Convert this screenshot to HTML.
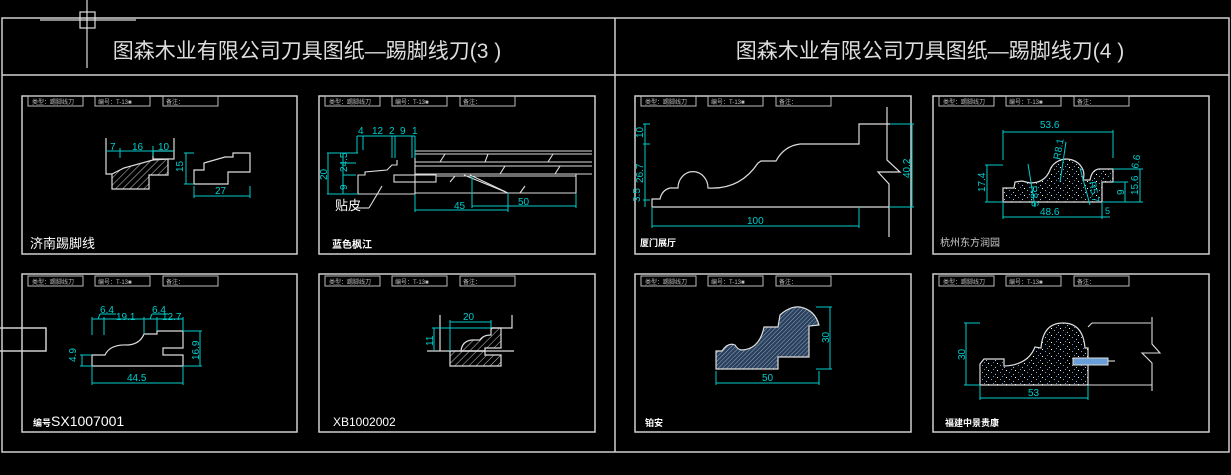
<!DOCTYPE html>
<html><head><meta charset="utf-8"><style>
html,body{margin:0;padding:0;background:#000;}
svg{display:block;}
text{font-family:"Liberation Sans","Noto Sans CJK SC",sans-serif;}
</style></head><body>
<svg width="1231" height="475" viewBox="0 0 1231 475" xmlns="http://www.w3.org/2000/svg">
<defs>
<pattern id="hw" width="5" height="5" patternUnits="userSpaceOnUse" patternTransform="rotate(45)"><line x1="0" y1="0" x2="0" y2="5" stroke="#ccc" stroke-width="1"/></pattern>
<pattern id="hb" width="3" height="3" patternUnits="userSpaceOnUse" patternTransform="rotate(45)"><rect width="3" height="3" fill="#2a3f5a"/><line x1="0" y1="0" x2="0" y2="3" stroke="#8fa8c8" stroke-width="1"/></pattern>
<pattern id="dots" width="9" height="7" patternUnits="userSpaceOnUse"><rect width="9" height="7" fill="#000"/><rect x="1" y="1" width="1" height="1" fill="#6aa0e0"/><rect x="5" y="3" width="1" height="1" fill="#9ac0f0"/><rect x="3" y="5" width="1" height="1" fill="#5090d0"/><rect x="7" y="6" width="1" height="1" fill="#fff"/></pattern>
<g id="hdr">
<rect x="0" y="0" width="55" height="10" fill="none" stroke="#bbb"/>
<rect x="67" y="0" width="55" height="10" fill="none" stroke="#bbb"/>
<rect x="135" y="0" width="55" height="10" fill="none" stroke="#bbb"/>
<text x="4" y="8" font-size="6" fill="#bbb">类型：踢脚线刀</text>
<text x="70" y="8" font-size="6" fill="#bbb">编号：T-13■</text>
<text x="138" y="8" font-size="6" fill="#bbb">备注：</text>
</g>
</defs>
<g fill="none" stroke="#cfcfcf" stroke-width="1.5">
<rect x="2" y="18" width="1227" height="434"/>
<line x1="2" y1="75" x2="1229" y2="75"/>
<line x1="615" y1="18" x2="615" y2="452"/>
<rect x="22" y="96" width="275" height="158"/>
<rect x="319" y="96" width="276" height="158"/>
<rect x="22" y="274" width="275" height="158"/>
<rect x="319" y="274" width="276" height="158"/>
<rect x="635" y="96" width="276" height="158"/>
<rect x="933" y="96" width="276" height="158"/>
<rect x="635" y="274" width="276" height="158"/>
<rect x="933" y="274" width="276" height="158"/>
<polyline points="0,328 46,328 46,351 0,351"/>
</g>
<!-- crosshair -->
<g stroke="#ddd" stroke-width="1.2" fill="none">
<line x1="87" y1="0" x2="87" y2="68"/><line x1="40" y1="20" x2="136" y2="20"/><rect x="80" y="12" width="15" height="16"/>
</g>
<text x="307" y="58" font-size="21" fill="#ddd" text-anchor="middle">图森木业有限公司刀具图纸—踢脚线刀(3 )</text>
<text x="930" y="58" font-size="21" fill="#ddd" text-anchor="middle">图森木业有限公司刀具图纸—踢脚线刀(4 )</text>
<use href="#hdr" x="28" y="96"/><use href="#hdr" x="325" y="96"/><use href="#hdr" x="28" y="276"/><use href="#hdr" x="325" y="276"/>
<use href="#hdr" x="641" y="96"/><use href="#hdr" x="939" y="96"/><use href="#hdr" x="641" y="276"/><use href="#hdr" x="939" y="276"/>

<!-- Panel 1 -->
<g stroke="#ddd" stroke-width="1.2">
<polygon points="112,174 124,168 153,160 168,159 168,175 149,175 149,189 112,189" fill="url(#hw)"/>
<polyline fill="none" points="106,138 106,174 112,174"/>
<rect x="153" y="151" width="21" height="8" fill="none"/>
<line x1="174" y1="138" x2="174" y2="151"/>
<polygon fill="none" points="194,170 204,170 204,163 225,157 233,157 233,153 250,153 250,172 228,172 228,184 194,184"/>
</g>
<g stroke="#0cc" stroke-width="1" fill="none">
<line x1="106" y1="151" x2="174" y2="151"/><line x1="120" y1="148" x2="120" y2="158"/><line x1="153" y1="146" x2="153" y2="156"/>
<line x1="186" y1="153" x2="186" y2="184"/><line x1="184" y1="153" x2="194" y2="153"/><line x1="184" y1="184" x2="194" y2="184"/>
<line x1="194" y1="196" x2="250" y2="196"/><line x1="194" y1="186" x2="194" y2="198"/><line x1="250" y1="186" x2="250" y2="198"/>
</g>
<g fill="#0cc" font-size="10">
<text x="110" y="150">7</text><text x="132" y="150">16</text><text x="158" y="150">10</text>
<text x="215" y="194">27</text>
<text transform="translate(183,172) rotate(-90)">15</text>
</g>
<text x="30" y="248" font-size="13" fill="#fff">济南踢脚线</text>

<!-- Panel 2 -->
<g stroke="#ddd" stroke-width="1.1" fill="none">
<polyline points="358,194 358,175 365,175 365,172 387,170 392,165 397,165 397,160 A 8 9 0 0 1 413 160 413,163 415,163"/>
<line x1="358" y1="194" x2="415" y2="194"/>
<line x1="415" y1="150" x2="415" y2="194"/>
<line x1="415" y1="151" x2="592" y2="151"/><line x1="415" y1="154" x2="592" y2="154"/>
<line x1="415" y1="162" x2="592" y2="162"/><line x1="415" y1="166" x2="592" y2="166"/>
<line x1="415" y1="174" x2="592" y2="174"/><line x1="436" y1="176" x2="576" y2="176"/>
<line x1="415" y1="193" x2="576" y2="193"/>
<rect x="394" y="175" width="42" height="7"/>
<line x1="464" y1="175" x2="508" y2="193"/><line x1="470" y1="175" x2="506" y2="192"/>
<line x1="440" y1="162" x2="445" y2="154"/><line x1="485" y1="162" x2="488" y2="154"/><line x1="548" y1="162" x2="553" y2="154"/>
<line x1="500" y1="174" x2="505" y2="166"/><line x1="555" y1="174" x2="560" y2="166"/><line x1="450" y1="182" x2="455" y2="176"/><line x1="520" y1="193" x2="525" y2="186"/>
<line x1="576" y1="174" x2="576" y2="193"/>
<line x1="369" y1="208" x2="382" y2="186"/><line x1="355" y1="208" x2="369" y2="208"/>
</g>
<g stroke="#0cc" stroke-width="1" fill="none">
<line x1="357" y1="136" x2="415" y2="136"/>
<line x1="357" y1="136" x2="357" y2="153"/><line x1="363" y1="136" x2="363" y2="150"/><line x1="392" y1="136" x2="392" y2="158"/><line x1="395" y1="136" x2="395" y2="158"/><line x1="412" y1="136" x2="412" y2="158"/><line x1="415" y1="136" x2="415" y2="158"/>
<line x1="328" y1="153" x2="328" y2="194"/><line x1="327" y1="153" x2="358" y2="153"/><line x1="327" y1="194" x2="358" y2="194"/>
<line x1="343" y1="153" x2="343" y2="194"/><line x1="343" y1="163" x2="356" y2="163"/><line x1="343" y1="175" x2="356" y2="175"/>
<line x1="415" y1="210" x2="508" y2="210"/><line x1="415" y1="194" x2="415" y2="212"/><line x1="508" y1="193" x2="508" y2="212"/>
<line x1="472" y1="206" x2="576" y2="206"/><line x1="472" y1="176" x2="472" y2="208"/><line x1="576" y1="193" x2="576" y2="208"/>
</g>
<g fill="#0cc" font-size="10">
<text x="358" y="134">4</text><text x="372" y="134">12</text><text x="389" y="134">2</text><text x="400" y="134">9</text><text x="412" y="134">1</text>
<text transform="translate(327,180) rotate(-90)">20</text>
<text transform="translate(347,172) rotate(-90)">24.5</text>
<text transform="translate(347,190) rotate(-90)">9</text>
<text x="454" y="209">45</text><text x="518" y="205">50</text>
</g>
<text x="335" y="210" font-size="13" fill="#fff">贴皮</text>
<text x="332" y="248" font-size="10" font-weight="bold" fill="#fff">蓝色枫江</text>

<!-- Panel 3 -->
<g stroke="#ddd" stroke-width="1.2" fill="none">
<path d="M652,207 L889,207 M652,207 L652,199 L660,199 Q662,190 670,188 L678,188 A 11 12 0 0 1 708 188 Q740,190 758,163 L761,161 L776,161 Q784,146 800,144 L859,144 L859,124 L890,124"/>
<polyline points="887,107 887,160 900,172 878,172 889,184 889,237"/>
</g>
<g stroke="#0cc" stroke-width="1" fill="none">
<line x1="645" y1="124" x2="645" y2="207"/><line x1="643" y1="124" x2="650" y2="124"/><line x1="643" y1="144" x2="650" y2="144"/><line x1="643" y1="200" x2="650" y2="200"/>
<line x1="912" y1="124" x2="912" y2="207"/><line x1="890" y1="124" x2="914" y2="124"/><line x1="889" y1="207" x2="914" y2="207"/>
<line x1="652" y1="207" x2="652" y2="228"/><line x1="859" y1="207" x2="859" y2="228"/><line x1="652" y1="226" x2="859" y2="226"/>
</g>
<g fill="#0cc" font-size="10">
<text transform="translate(643,138) rotate(-90)">10</text>
<text transform="translate(643,183) rotate(-90)">26.7</text>
<text transform="translate(640,202) rotate(-90)">3.5</text>
<text transform="translate(910,178) rotate(-90)">40.2</text>
<text x="747" y="224">100</text>
</g>
<text x="640" y="246" font-size="9" font-weight="bold" fill="#fff">厦门展厅</text>

<!-- Panel 4 -->
<path d="M1003,202 L1003,188 L1014,188 L1015,182 L1022,181 L1030,183 Q1045,183 1050,170 A 12 11 0 0 1 1083 180 L1090,180 Q1092,169 1100,169 L1113,169 L1113,182 L1102,182 L1102,202 Z" fill="url(#dots)" stroke="#ddd" stroke-width="1.2"/>
<g stroke="#0cc" stroke-width="1" fill="none">
<line x1="1003" y1="132" x2="1113" y2="132"/><line x1="1003" y1="130" x2="1003" y2="160"/><line x1="1113" y1="130" x2="1113" y2="158"/>
<line x1="987" y1="165" x2="987" y2="202"/><line x1="985" y1="165" x2="1003" y2="165"/><line x1="985" y1="202" x2="1003" y2="202"/>
<line x1="1003" y1="217" x2="1110" y2="217"/><line x1="1003" y1="202" x2="1003" y2="219"/><line x1="1102" y1="202" x2="1102" y2="219"/>
<line x1="1125" y1="182" x2="1125" y2="202"/><line x1="1113" y1="182" x2="1128" y2="182"/>
<line x1="1140" y1="169" x2="1140" y2="202"/><line x1="1113" y1="169" x2="1143" y2="169"/><line x1="1103" y1="202" x2="1143" y2="202"/>
<line x1="1028" y1="164" x2="1035" y2="207"/><line x1="1066" y1="142" x2="1060" y2="182"/><line x1="1080" y1="168" x2="1090" y2="205"/>
</g>
<g fill="#0cc" font-size="10">
<text x="1040" y="128">53.6</text><text x="1040" y="215">48.6</text>
<text transform="translate(985,192) rotate(-90)">17.4</text>
<text transform="translate(1124,195) rotate(-90)">9</text>
<text transform="translate(1138,195) rotate(-90)">15.6</text>
<text transform="translate(1138,169) rotate(-80)">6.6</text>
<text transform="translate(1060,160) rotate(-80)">R8.1</text>
<text transform="translate(1030,186) rotate(85)">R8.6</text>
<text transform="translate(1089,182) rotate(80)">R5.7</text>
<text x="1105" y="214" font-size="9">5</text>
</g>
<text x="940" y="246" font-size="10" fill="#ccc">杭州东方润园</text>

<!-- Panel 5 -->
<path d="M92,355 L92,366 L183,366 L183,355 L163,355 L163,348 L183,348 L183,331 L157,331 L157,334 L144,334 Q140,344 128,345 Q110,344 105,355 Z" fill="none" stroke="#ddd" stroke-width="1.2"/>
<g stroke="#0cc" stroke-width="1" fill="none">
<line x1="92" y1="319" x2="183" y2="319"/><line x1="92" y1="317" x2="92" y2="335"/><line x1="104" y1="317" x2="104" y2="335"/><line x1="144" y1="317" x2="144" y2="334"/><line x1="157" y1="317" x2="157" y2="331"/><line x1="183" y1="317" x2="183" y2="331"/>
<line x1="98" y1="319" x2="100" y2="314"/><line x1="100" y1="314" x2="116" y2="314"/><line x1="150" y1="319" x2="152" y2="314"/><line x1="152" y1="314" x2="168" y2="314"/>
<line x1="200" y1="331" x2="200" y2="366"/><line x1="183" y1="331" x2="202" y2="331"/><line x1="183" y1="366" x2="202" y2="366"/>
<line x1="92" y1="383" x2="183" y2="383"/><line x1="92" y1="366" x2="92" y2="385"/><line x1="183" y1="366" x2="183" y2="385"/>
<line x1="82" y1="355" x2="82" y2="366"/><line x1="80" y1="355" x2="92" y2="355"/><line x1="80" y1="366" x2="92" y2="366"/>
</g>
<g fill="#0cc" font-size="10">
<text x="100" y="313">6.4</text><text x="116" y="320">19.1</text><text x="152" y="313">6.4</text><text x="162" y="320">12.7</text>
<text transform="translate(199,360) rotate(-90)">16.9</text>
<text x="127" y="381">44.5</text>
<text transform="translate(76,362) rotate(-90)">4.9</text>
</g>
<text x="33" y="426" font-size="14" fill="#fff"><tspan font-size="9" font-weight="bold">编号</tspan>SX1007001</text>

<!-- Panel 6 -->
<g stroke="#ddd" stroke-width="1.2">
<path d="M450,351 L450,366 L501,366 L501,355 L485,355 L485,351 Z" fill="url(#hw)"/>
<path d="M461,351 Q462,341 472,340 L480,340 Q483,335 491,335 L491,328 L501,328 L501,348 L485,348 L485,351 Z" fill="url(#hw)"/>
<g fill="none"><polyline points="440,315 440,351"/><line x1="427" y1="351" x2="514" y2="351"/><polyline points="491,328 512,328 512,315"/></g>
</g>
<g stroke="#0cc" stroke-width="1" fill="none">
<line x1="450" y1="322" x2="491" y2="322"/><line x1="450" y1="320" x2="450" y2="351"/><line x1="491" y1="320" x2="491" y2="328"/>
<line x1="434" y1="328" x2="434" y2="351"/><line x1="432" y1="328" x2="491" y2="328"/>
</g>
<g fill="#0cc" font-size="10"><text x="463" y="320">20</text><text transform="translate(433,346) rotate(-90)">11</text></g>
<text x="333" y="426" font-size="12" fill="#fff" font-family="Liberation Mono">XB1002002</text>

<!-- Panel 7 -->
<path d="M716,369 L716,351 L722,351 Q728,342 735,345 Q738,350 742,350 Q758,349 763,331 L764,327 L778,327 L780,315 Q790,306 800,307 Q815,310 819,325 L809,326 L809,357 L778,357 L778,369 Z" fill="url(#hb)" stroke="#ddd" stroke-width="1.2"/>
<g stroke="#0cc" stroke-width="1" fill="none">
<line x1="830" y1="307" x2="830" y2="369"/><line x1="816" y1="307" x2="832" y2="307"/><line x1="816" y1="369" x2="832" y2="369"/>
<line x1="716" y1="383" x2="819" y2="383"/><line x1="716" y1="371" x2="716" y2="385"/><line x1="819" y1="371" x2="819" y2="385"/>
</g>
<g fill="#0cc" font-size="10"><text x="762" y="381">50</text><text transform="translate(829,343) rotate(-90)">30</text></g>
<text x="645" y="426" font-size="9" font-weight="bold" fill="#fff">铂安</text>

<!-- Panel 8 -->
<path d="M980,384 L980,364 L984,359 L1004,359 L1004,366 Q1028,365 1035,347 L1041,348 Q1043,323 1063,323 Q1083,323 1085,348 L1088,348 L1088,385 L980,385 Z" fill="url(#dots)" stroke="#ddd" stroke-width="1.2"/>
<g stroke="#ddd" stroke-width="1.1" fill="none">
<polyline points="1088,327 1092,323 1151,323"/>
<polyline points="1152,317 1152,344 1160,353 1142,353 1152,363 1152,391"/>
<line x1="980" y1="385" x2="1152" y2="385"/>
<line x1="1108" y1="361" x2="1115" y2="361"/>
</g>
<rect x="1073" y="358" width="35" height="7" fill="#6a9ed8" stroke="#ddd"/>
<g stroke="#0cc" stroke-width="1" fill="none">
<line x1="966" y1="323" x2="966" y2="385"/><line x1="964" y1="323" x2="980" y2="323"/><line x1="964" y1="385" x2="980" y2="385"/>
<line x1="980" y1="398" x2="1088" y2="398"/><line x1="980" y1="385" x2="980" y2="400"/><line x1="1088" y1="385" x2="1088" y2="400"/>
</g>
<g fill="#0cc" font-size="10"><text x="1028" y="396">53</text><text transform="translate(965,360) rotate(-90)">30</text></g>
<text x="945" y="426" font-size="9" font-weight="bold" fill="#fff">福建中景贵康</text>
</svg>
</body></html>
